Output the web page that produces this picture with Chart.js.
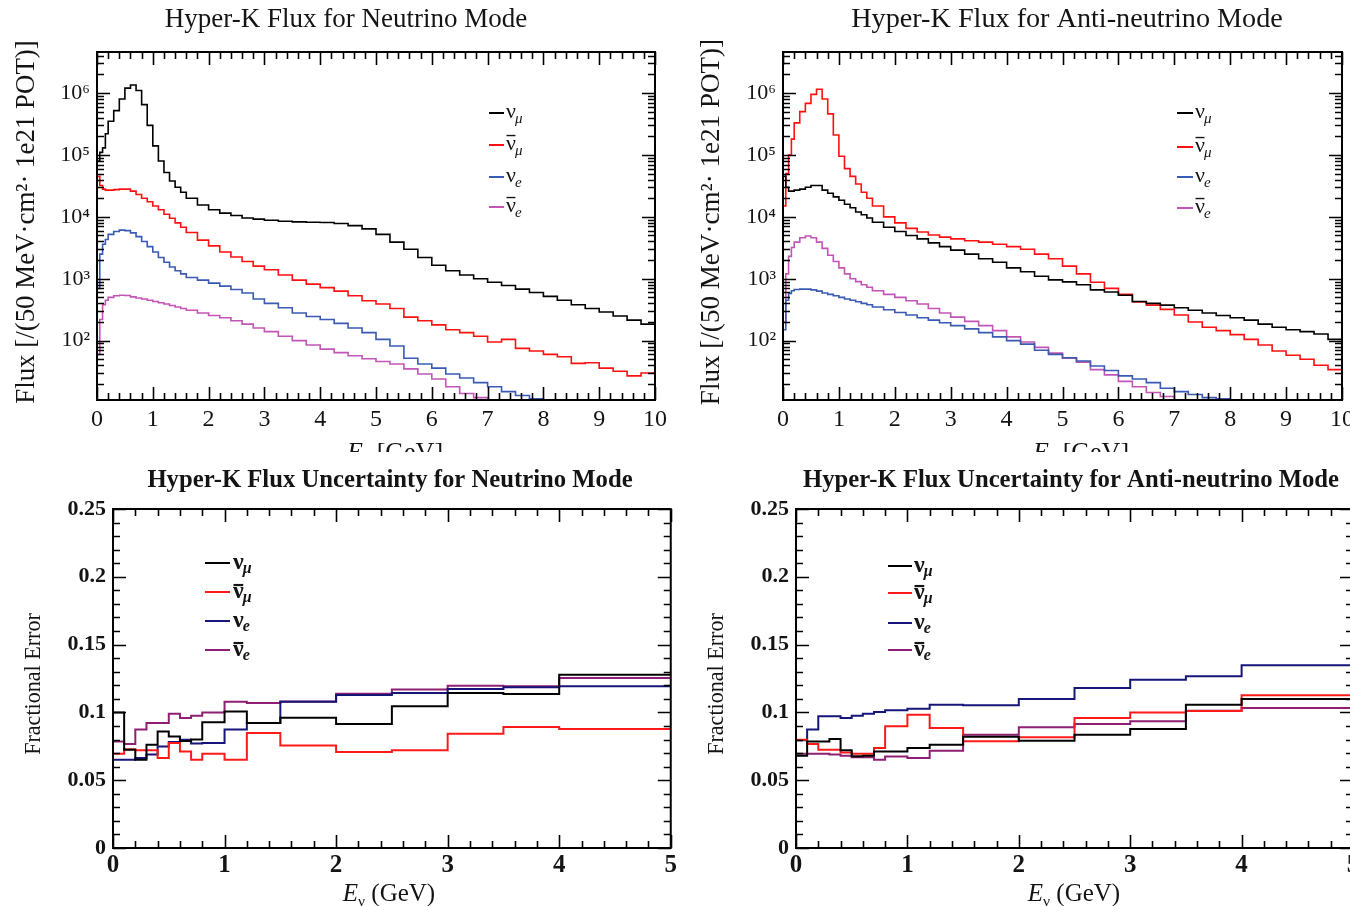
<!DOCTYPE html>
<html lang="en">
  <head>
    <meta charset="UTF-8" />
    <title>Hyper-K flux and flux uncertainty</title>
    <style>
      html, body { margin: 0; padding: 0; background: #fff; }
      body { position: relative; width: 1350px; height: 906px; overflow: hidden; }
      .panel { position: absolute; }
    </style>
  </head>
  <body>
    <canvas id="fluxNu" class="panel" width="680" height="452" style="left:0;top:0"></canvas>
    <canvas id="fluxAnti" class="panel" width="700" height="452" style="left:680px;top:0"></canvas>
    <canvas id="errNu" class="panel" width="680" height="454" style="left:0;top:452px"></canvas>
    <canvas id="errAnti" class="panel" width="700" height="454" style="left:680px;top:452px"></canvas>

    <script src="https://cdn.jsdelivr.net/npm/chart.js"></script>
    <script>
      const SERIF = "'Liberation Serif', 'DejaVu Serif', serif";

      // species, in legend order
      const species = ["\u03bd\u03bc", "\u03bd\u0304\u03bc", "\u03bde", "\u03bd\u0304e"];
      const speciesSub = ["\u03bc", "\u03bc", "e", "e"];
      const speciesBar = [false, true, false, true];
      const fluxColors = ["#000000", "#ff1010", "#3a5ab4", "#c255b5"];
      const errColors = ["#000000", "#ff1a1a", "#15157a", "#8e1f72"];

      const panelTitles = [
        "Hyper-K Flux for Neutrino Mode",
        "Hyper-K Flux for Anti-neutrino Mode",
        "Hyper-K Flux Uncertainty for Neutrino Mode",
        "Hyper-K Flux Uncertainty for Anti-neutrino Mode",
      ];
      const fluxYTitle = "Flux [/(50 MeV\u00b7cm\u00b2\u00b7 1e21 POT)]";
      const errYTitle = "Fractional Error";

      // tick labels
      const fluxXTicks = [0, 1, 2, 3, 4, 5, 6, 7, 8, 9, 10];
      const fluxYTicks = [1e2, 1e3, 1e4, 1e5, 1e6];
      const errXTicks = [0, 1, 2, 3, 4, 5];
      const errYTicks = [0, 0.05, 0.1, 0.15, 0.2, 0.25];

      // flux histograms: bin edges (GeV) and contents per bin
      const fluxEdges = [0, 0.05, 0.1, 0.15, 0.2, 0.3, 0.4, 0.5, 0.6, 0.7, 0.8, 0.9, 1.0, 1.1, 1.2, 1.3, 1.4, 1.5, 1.6, 1.8, 2.0, 2.2, 2.4, 2.6, 2.8, 3.0, 3.25, 3.5, 3.75, 4.0, 4.25, 4.5, 4.75, 5.0, 5.25, 5.5, 5.75, 6.0, 6.25, 6.5, 6.75, 7.0, 7.25, 7.5, 7.75, 8.0, 8.25, 8.5, 8.75, 9.0, 9.25, 9.5, 9.75, 10.0];

      // neutrino mode
      const nuModeNumu = [8e4, 1.1e5, 1.3e5, 2.2e5, 3.5e5, 5.2e5, 8e5, 1.2e6, 1.35e6, 1.1e6, 6.5e5, 3e5, 1.4e5, 8e4, 5.2e4, 3.8e4, 3e4, 2.5e4, 2e4, 1.55e4, 1.3e4, 1.15e4, 1.05e4, 9.6e3, 9.2e3, 8.8e3, 8.5e3, 8.3e3, 8.2e3, 8.1e3, 7.8e3, 7.2e3, 6.4e3, 5.2e3, 3.9e3, 3e3, 2.2e3, 1.65e3, 1.35e3, 1.15e3, 1e3, 880, 780, 680, 600, 520, 450, 380, 330, 290, 250, 215, 185];
      const nuModeNumubar = [4.5e4, 3.2e4, 2.8e4, 2.7e4, 2.7e4, 2.75e4, 2.8e4, 2.8e4, 2.6e4, 2.3e4, 2e4, 1.75e4, 1.5e4, 1.3e4, 1.1e4, 9.5e3, 8e3, 6.8e3, 5.6e3, 4.2e3, 3.4e3, 2.7e3, 2.25e3, 1.9e3, 1.6e3, 1.4e3, 1.15e3, 950, 820, 720, 630, 530, 440, 390, 330, 240, 210, 180, 150, 135, 118, 95, 105, 75, 68, 60, 55, 43, 44, 36, 32, 27, 30];
      const nuModeNue = [700, 2.5e3, 3.6e3, 4.3e3, 5.2e3, 5.8e3, 6.1e3, 6e3, 5.5e3, 4.8e3, 4e3, 3.3e3, 2.7e3, 2.2e3, 1.85e3, 1.55e3, 1.35e3, 1.2e3, 1.05e3, 950, 850, 760, 670, 590, 470, 400, 340, 280, 245, 220, 190, 160, 135, 105, 82, 52, 42, 36, 29, 25, 21, 18, 15, 13, 11.5, 11, 11, 11, 11, 11, 11, 11, 11];
      const nuModeNuebar = [60, 220, 380, 450, 500, 530, 540, 535, 510, 490, 470, 450, 430, 410, 390, 370, 350, 330, 310, 280, 255, 235, 210, 185, 160, 140, 118, 100, 85, 73, 64, 57, 51, 46, 42, 35, 29, 24, 18, 14, 12, 11, 11, 11, 11, 11, 11, 11, 11, 11, 11, 11, 11];

      // anti-neutrino mode
      const antiModeNumu = [4.5e4, 3e4, 2.6e4, 2.6e4, 2.7e4, 2.8e4, 3e4, 3.2e4, 3.2e4, 2.7e4, 2.4e4, 2.1e4, 1.85e4, 1.6e4, 1.4e4, 1.2e4, 1.08e4, 9.6e3, 8.2e3, 6.8e3, 5.8e3, 5e3, 4.4e3, 3.8e3, 3.3e3, 2.9e3, 2.5e3, 2.1e3, 1.85e3, 1.5e3, 1.3e3, 1.1e3, 960, 890, 800, 660, 610, 540, 430, 400, 375, 340, 310, 280, 255, 235, 215, 185, 165, 150, 140, 128, 105];
      const antiModeNumubar = [1.5e4, 5e4, 1e5, 1.8e5, 3.3e5, 5e5, 6.8e5, 9.5e5, 1.15e6, 8e5, 4.6e5, 2.1e5, 9.5e4, 6e4, 4.5e4, 3.4e4, 2.5e4, 2e4, 1.5e4, 1e4, 8e3, 6.5e3, 5.7e3, 5.1e3, 4.7e3, 4.4e3, 4.1e3, 3.9e3, 3.6e3, 3.3e3, 3e3, 2.5e3, 2.1e3, 1.6e3, 1.2e3, 880, 700, 560, 420, 375, 320, 260, 200, 165, 145, 125, 105, 85, 68, 58, 50, 40, 34];
      const antiModeNue = [150, 450, 580, 640, 670, 680, 680, 660, 630, 590, 560, 530, 500, 470, 450, 425, 400, 380, 350, 315, 285, 260, 235, 215, 195, 175, 155, 135, 115, 100, 88, 70, 60, 53, 47, 39, 33, 27, 24, 21, 17, 15, 13.5, 12, 11.5, 11, 11, 11, 11, 11, 11, 11, 11];
      const antiModeNuebar = [200, 1.2e3, 2.3e3, 3.2e3, 3.9e3, 4.6e3, 4.9e3, 4.6e3, 3.9e3, 3.1e3, 2.4e3, 1.9e3, 1.5e3, 1.2e3, 1e3, 900, 800, 730, 640, 560, 500, 440, 390, 330, 280, 240, 205, 175, 145, 115, 95, 78, 63, 52, 45, 34, 28, 22, 18, 14.5, 12.5, 11, 11, 11, 11, 11, 11, 11, 11, 11, 11, 11, 11];

      // fractional flux errors: bin edges (GeV) and values
      const errEdges = [0, 0.1, 0.2, 0.3, 0.4, 0.5, 0.6, 0.7, 0.8, 0.9, 1.0, 1.2, 1.5, 2.0, 2.5, 3.0, 3.5, 4.0, 5.0];

      const errNuNumu = [0.1, 0.0725, 0.0651, 0.0762, 0.086, 0.0823, 0.079, 0.08, 0.0927, 0.0927, 0.1007, 0.0922, 0.096, 0.0914, 0.1045, 0.1143, 0.1135, 0.1278];
      const errNuNumubar = [0.0695, 0.0729, 0.072, 0.072, 0.0663, 0.0774, 0.0712, 0.0651, 0.0695, 0.0695, 0.0651, 0.0848, 0.0755, 0.0708, 0.072, 0.0843, 0.0892, 0.0878];
      const errNuNue = [0.0651, 0.0651, 0.0663, 0.069, 0.0749, 0.0782, 0.0799, 0.077, 0.0775, 0.0775, 0.0873, 0.0922, 0.1079, 0.1128, 0.1143, 0.1172, 0.1185, 0.1192];
      const errNuNuebar = [0.0786, 0.0767, 0.0873, 0.0922, 0.0922, 0.099, 0.0958, 0.0975, 0.1, 0.1, 0.1079, 0.1069, 0.108, 0.1138, 0.1168, 0.1197, 0.1192, 0.1254];

      const errAntiNumu = [0.0681, 0.0786, 0.0786, 0.0803, 0.072, 0.0677, 0.0681, 0.0712, 0.0712, 0.0712, 0.0737, 0.0762, 0.082, 0.0791, 0.0836, 0.0878, 0.1057, 0.1099];
      const errAntiNumubar = [0.0799, 0.0767, 0.0725, 0.0725, 0.0705, 0.0695, 0.0695, 0.0737, 0.0897, 0.0897, 0.0983, 0.0885, 0.0787, 0.0816, 0.0959, 0.1, 0.101, 0.1126];
      const errAntiNue = [0.0794, 0.0873, 0.0971, 0.0971, 0.0958, 0.0975, 0.099, 0.1003, 0.1015, 0.1015, 0.1027, 0.1057, 0.1052, 0.1099, 0.118, 0.1241, 0.1266, 0.1347];
      const errAntiNuebar = [0.0695, 0.0695, 0.0695, 0.069, 0.068, 0.067, 0.067, 0.0651, 0.0675, 0.0675, 0.0663, 0.0718, 0.0836, 0.089, 0.0914, 0.0934, 0.1013, 0.1032];

      // histogram -> points for a step line (each value held until the next edge)
      function histPoints(edges, values) {
        const pts = values.map((v, i) => ({ x: edges[i], y: v }));
        pts.push({ x: edges[edges.length - 1], y: values[values.length - 1] });
        return pts;
      }

      function steps(a, b, d) {
        const out = [];
        for (let v = a; v <= b + 1e-9; v += d) out.push(+v.toFixed(4));
        return out;
      }

      const FLUX_MIN = 11;
      const FLUX_MAX = 4.6e6;
      const logMinor = [];
      for (let d = 10; d <= 1e6; d *= 10) {
        for (let k = 2; k <= 9; k++) {
          if (k * d >= FLUX_MIN && k * d <= FLUX_MAX) logMinor.push(k * d);
        }
      }

      const SUP = { 2: "\u00b2", 3: "\u00b3", 4: "\u2074", 5: "\u2075", 6: "\u2076" };

      function fitFont(ctx, text, weight, width) {
        ctx.font = `${weight} 20px ${SERIF}`;
        const size = (20 * width) / ctx.measureText(text).width;
        return `${weight} ${size.toFixed(1)}px ${SERIF}`;
      }

      // ROOT style frame with ticks pointing inside on all four sides
      const frameTicks = {
        id: "frameTicks",
        afterDatasetsDraw(chart, args, o) {
          const { ctx, chartArea: a } = chart;
          const { x, y } = chart.scales;
          ctx.save();
          ctx.strokeStyle = "#000";
          ctx.lineWidth = 1.6;
          ctx.beginPath();
          const xt = (vals, len) =>
            vals.forEach((v) => {
              const p = Math.round(x.getPixelForValue(v)) + 0.5;
              ctx.moveTo(p, a.bottom);
              ctx.lineTo(p, a.bottom - len);
              ctx.moveTo(p, a.top);
              ctx.lineTo(p, a.top + len);
            });
          const yt = (vals, len) =>
            vals.forEach((v) => {
              const p = Math.round(y.getPixelForValue(v)) + 0.5;
              ctx.moveTo(a.left, p);
              ctx.lineTo(a.left + len, p);
              ctx.moveTo(a.right, p);
              ctx.lineTo(a.right - len, p);
            });
          xt(o.xMinor, o.minor);
          xt(o.xMajor, o.major);
          yt(o.yMinor, o.minor);
          yt(o.yMajor, o.major);
          ctx.stroke();
          ctx.lineWidth = 2;
          ctx.strokeRect(a.left, a.top, a.right - a.left, a.bottom - a.top);
          ctx.restore();
        },
      };

      // titles, axis titles and the legend
      const panelText = {
        id: "panelText",
        afterDraw(chart, args, o) {
          const ctx = chart.ctx;
          ctx.save();
          ctx.fillStyle = "#141414";

          const t = o.title;
          ctx.font = fitFont(ctx, t.text, t.weight, t.width);
          ctx.textAlign = "center";
          ctx.textBaseline = "middle";
          ctx.fillText(t.text, t.x, t.y);

          const yt = o.yTitle;
          ctx.save();
          ctx.translate(yt.x, yt.y);
          ctx.rotate(-Math.PI / 2);
          ctx.font = fitFont(ctx, yt.text, "normal", yt.width);
          ctx.fillText(yt.text, 0, 0);
          ctx.restore();

          // E_nu axis title, drawn part by part
          const xt = o.xTitle;
          const parts = [
            { text: "E", font: `italic ${xt.weight} ${xt.size}px ${SERIF}`, dy: 0 },
            { text: "\u03bd", font: `${xt.weight} ${xt.size * 0.62}px ${SERIF}`, dy: xt.size * 0.2 },
            { text: xt.unit, font: `normal ${xt.size}px ${SERIF}`, dy: 0 },
          ];
          let total = 0;
          parts.forEach((p) => {
            ctx.font = p.font;
            p.w = ctx.measureText(p.text).width;
            total += p.w;
          });
          ctx.textAlign = "left";
          ctx.textBaseline = "alphabetic";
          let cx = xt.x - total / 2;
          parts.forEach((p) => {
            ctx.font = p.font;
            ctx.fillText(p.text, cx, xt.y + p.dy);
            cx += p.w;
          });

          // legend
          const L = o.legend;
          chart.data.datasets.forEach((ds, i) => {
            const yy = L.ys[i];
            ctx.strokeStyle = ds.borderColor;
            ctx.lineWidth = 2;
            ctx.beginPath();
            ctx.moveTo(L.x0, yy);
            ctx.lineTo(L.x1, yy);
            ctx.stroke();
            const base = yy + L.size * 0.23;
            ctx.font = `${L.weight} ${L.size}px ${SERIF}`;
            ctx.fillStyle = "#141414";
            ctx.fillText("\u03bd", L.tx, base);
            const w = ctx.measureText("\u03bd").width;
            if (speciesBar[i]) {
              ctx.strokeStyle = "#141414";
              ctx.lineWidth = L.weight === "bold" ? 2.2 : 1.4;
              ctx.beginPath();
              const by = base - L.size * L.barY;
              ctx.moveTo(L.tx + 0.5, by);
              ctx.lineTo(L.tx + w - 0.5, by);
              ctx.stroke();
            }
            ctx.font = `italic ${L.weight} ${L.sub}px ${SERIF}`;
            ctx.fillText(speciesSub[i], L.tx + w - 1, base + L.sub * 0.3);
          });
          ctx.restore();
        },
      };

      function buildPanel(id, cfg) {
        const datasets = cfg.series.map((vals, i) => ({
          label: species[i],
          data: histPoints(cfg.edges, vals),
          borderColor: cfg.colors[i],
          borderWidth: cfg.lineWidth,
          stepped: true,
          pointRadius: 0,
          fill: false,
        }));
        return new Chart(document.getElementById(id), {
          type: "line",
          data: { datasets },
          options: {
            responsive: false,
            animation: false,
            events: [],
            layout: {
              padding: { top: cfg.area.top, right: cfg.width - cfg.area.right, left: 0, bottom: 0 },
            },
            plugins: {
              legend: { display: false },
              tooltip: { enabled: false },
              title: { display: false },
              frameTicks: cfg.ticks,
              panelText: cfg.text,
            },
            scales: {
              x: {
                type: "linear",
                min: cfg.xMin,
                max: cfg.xMax,
                afterBuildTicks: (s) => {
                  s.ticks = cfg.xTicks.map((v) => ({ value: v }));
                },
                afterFit: (s) => {
                  s.height = cfg.height - cfg.area.bottom;
                },
                grid: { display: false, drawTicks: false },
                border: { display: false },
                ticks: {
                  font: cfg.xTickFont,
                  color: "#141414",
                  padding: cfg.xTickPad,
                  maxRotation: 0,
                  autoSkip: false,
                  callback: (v) => String(v),
                },
              },
              y: {
                type: cfg.yType,
                min: cfg.yMin,
                max: cfg.yMax,
                afterBuildTicks: (s) => {
                  s.ticks = cfg.yTicks.map((v) => ({ value: v }));
                },
                afterFit: (s) => {
                  s.width = cfg.area.left;
                },
                grid: { display: false, drawTicks: false },
                border: { display: false },
                ticks: {
                  font: cfg.yTickFont,
                  color: "#141414",
                  padding: cfg.yTickPad,
                  autoSkip: false,
                  callback: cfg.yFormat,
                },
              },
            },
          },
          plugins: [frameTicks, panelText],
        });
      }

      const fluxCommon = {
        height: 452,
        edges: fluxEdges,
        colors: fluxColors,
        lineWidth: 1.6,
        xMin: 0,
        xMax: 10,
        xTicks: fluxXTicks,
        yType: "logarithmic",
        yMin: FLUX_MIN,
        yMax: FLUX_MAX,
        yTicks: fluxYTicks,
        yFormat: (v) => "10" + SUP[Math.round(Math.log10(v))],
        xTickFont: { family: SERIF, size: 24 },
        yTickFont: { family: SERIF, size: 22 },
        xTickPad: 5,
        yTickPad: 7,
        ticks: {
          xMajor: fluxXTicks,
          xMinor: steps(0, 10, 0.2),
          yMajor: fluxYTicks,
          yMinor: logMinor,
          major: 13,
          minor: 7,
        },
      };

      const errCommon = {
        height: 454,
        edges: errEdges,
        colors: errColors,
        lineWidth: 2,
        xMin: 0,
        xMax: 5,
        xTicks: errXTicks,
        yType: "linear",
        yMin: 0,
        yMax: 0.25,
        yTicks: errYTicks,
        yFormat: (v) => String(v),
        xTickFont: { family: SERIF, size: 25, weight: "bold" },
        yTickFont: { family: SERIF, size: 22, weight: "bold" },
        xTickPad: 3,
        yTickPad: 7,
        ticks: {
          xMajor: errXTicks,
          xMinor: steps(0, 5, 0.2),
          yMajor: errYTicks,
          yMinor: steps(0, 0.25, 0.01),
          major: 13,
          minor: 7,
        },
      };

      buildPanel("fluxNu", {
        ...fluxCommon,
        width: 680,
        area: { left: 97, right: 655, top: 52, bottom: 400 },
        series: [nuModeNumu, nuModeNumubar, nuModeNue, nuModeNuebar],
        text: {
          title: { text: panelTitles[0], x: 346, y: 20, width: 363, weight: "normal" },
          yTitle: { text: fluxYTitle, x: 27, y: 222, width: 363 },
          xTitle: { x: 395, y: 460, size: 26, weight: "normal", unit: " [GeV]" },
          legend: { x0: 489, x1: 504, tx: 506, ys: [113, 145, 177, 207], size: 22, sub: 15, weight: "normal", barY: 0.66 },
        },
      });

      buildPanel("fluxAnti", {
        ...fluxCommon,
        width: 700,
        area: { left: 103, right: 662, top: 52, bottom: 400 },
        series: [antiModeNumu, antiModeNumubar, antiModeNue, antiModeNuebar],
        text: {
          title: { text: panelTitles[1], x: 387, y: 20, width: 432, weight: "normal" },
          yTitle: { text: fluxYTitle, x: 32, y: 222, width: 367 },
          xTitle: { x: 401, y: 460, size: 26, weight: "normal", unit: " [GeV]" },
          legend: { x0: 497, x1: 513, tx: 515, ys: [113, 147, 177, 208], size: 22, sub: 15, weight: "normal", barY: 0.66 },
        },
      });

      buildPanel("errNu", {
        ...errCommon,
        width: 680,
        area: { left: 113, right: 671, top: 57, bottom: 396 },
        series: [errNuNumu, errNuNumubar, errNuNue, errNuNuebar],
        text: {
          title: { text: panelTitles[2], x: 390, y: 29, width: 485, weight: "bold" },
          yTitle: { text: errYTitle, x: 34, y: 232, width: 142 },
          xTitle: { x: 389, y: 449, size: 25, weight: "normal", unit: " (GeV)" },
          legend: { x0: 205, x1: 230, tx: 233, ys: [111, 140, 169, 198], size: 24, sub: 16, weight: "bold", barY: 0.52 },
        },
      });

      buildPanel("errAnti", {
        ...errCommon,
        width: 700,
        area: { left: 116, right: 673, top: 57, bottom: 396 },
        series: [errAntiNumu, errAntiNumubar, errAntiNue, errAntiNuebar],
        text: {
          title: { text: panelTitles[3], x: 391, y: 29, width: 537, weight: "bold" },
          yTitle: { text: errYTitle, x: 37, y: 232, width: 142 },
          xTitle: { x: 394, y: 449, size: 25, weight: "normal", unit: " (GeV)" },
          legend: { x0: 208, x1: 232, tx: 234, ys: [114, 141, 171, 198], size: 24, sub: 16, weight: "bold", barY: 0.52 },
        },
      });
    </script>
  </body>
</html>
